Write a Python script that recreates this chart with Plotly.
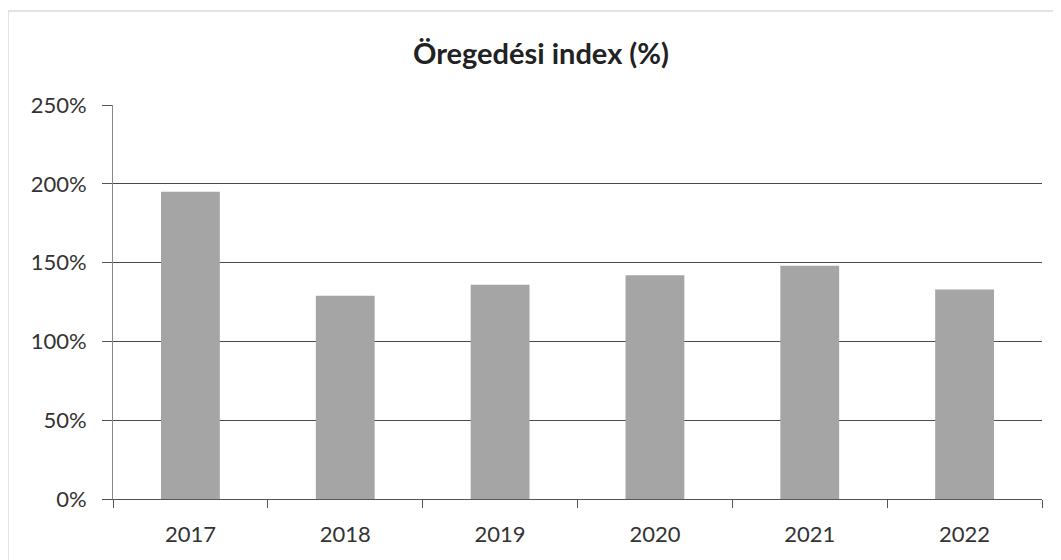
import plotly.graph_objects as go

years = ["2017", "2018", "2019", "2020", "2021", "2022"]
index_values = [1.95, 1.29, 1.36, 1.42, 1.48, 1.33]
y_ticks = [0, 0.5, 1.0, 1.5, 2.0, 2.5]
title_text = "Öregedési index (%)"

FONT = "Lato, 'Open Sans', sans-serif"

fig = go.Figure(
    go.Bar(
        x=years,
        y=index_values,
        marker=dict(color="#a5a5a5", line=dict(width=0)),
        hoverinfo="x+y",
    )
)

fig.update_layout(
    width=1061,
    height=560,
    paper_bgcolor="white",
    plot_bgcolor="white",
    margin=dict(l=105, r=27, t=97, b=69),
    bargap=0.62,
    showlegend=False,
    font=dict(family=FONT, color="#333333", size=22),
    title=dict(
        text=title_text,
        x=533 / 1061,
        xanchor="center",
        xref="container",
        y=1 - 46 / 560,
        yanchor="middle",
        yref="container",
        font=dict(family=FONT, size=29, color="#222222", weight="bold"),
    ),
    shapes=[
        dict(
            type="rect",
            xref="paper",
            yref="paper",
            x0=-105 / 929,
            x1=1.05,
            y0=-0.3,
            y1=1 + 94 / 394,
            line=dict(color="#c8c8c8", width=1),
            fillcolor="rgba(0,0,0,0)",
            layer="below",
        )
    ],
)

fig.update_xaxes(
    type="category",
    showline=True,
    linecolor="#555555",
    linewidth=1,
    ticks="outside",
    tickson="boundaries",
    ticklen=8,
    tickcolor="#555555",
    showgrid=False,
    tickfont=dict(family=FONT, size=22, color="#333333"),
    ticklabelstandoff=16,
)

fig.update_yaxes(
    range=[0, 2.5],
    tickvals=y_ticks,
    tickformat=".0%",
    showline=True,
    linecolor="#888888",
    linewidth=1,
    ticks="outside",
    ticklen=10,
    tickcolor="#555555",
    showgrid=True,
    gridcolor="#4a4a4a",
    gridwidth=1,
    zeroline=False,
    tickfont=dict(family=FONT, size=22, color="#333333"),
    ticklabelstandoff=11,
)

fig.write_html("out.html")
